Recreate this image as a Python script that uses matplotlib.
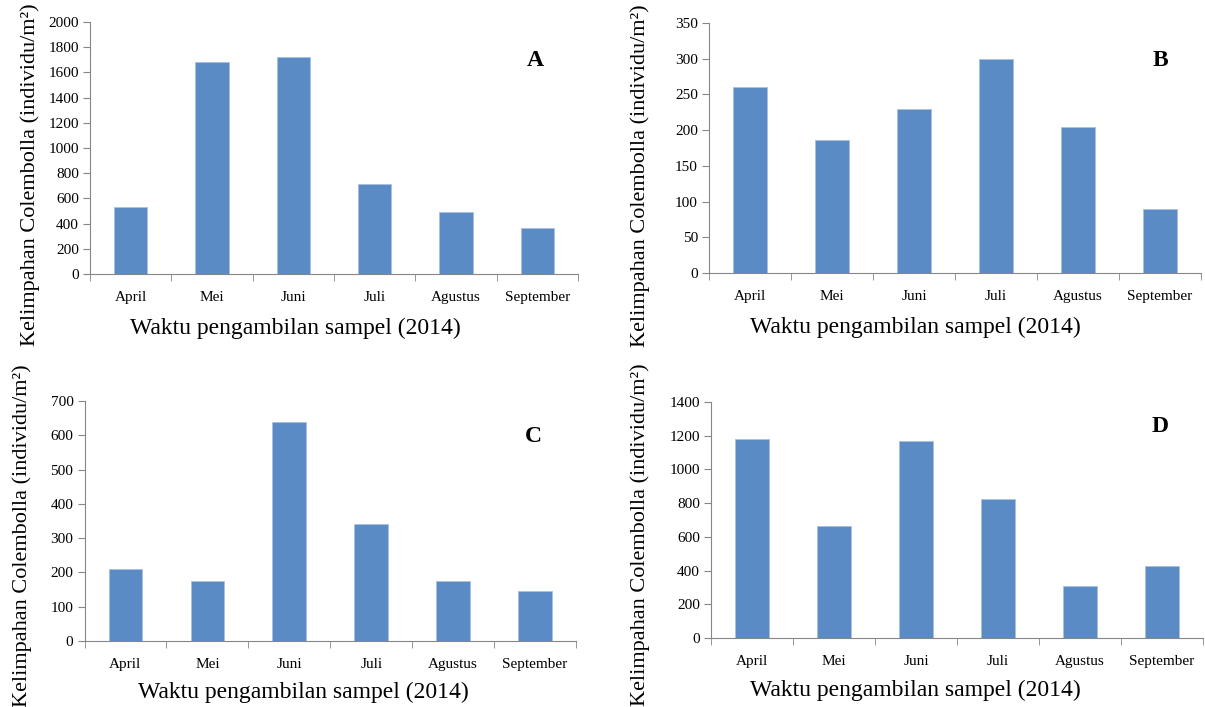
import matplotlib
matplotlib.use("Agg")
import matplotlib.pyplot as plt
import numpy as np

plt.rcParams['font.family'] = ['Liberation Serif', 'DejaVu Serif']

months = ['April', 'Mei', 'Juni', 'Juli', 'Agustus', 'September']

vals_a = [530, 1685, 1725, 715, 495, 365]
vals_b = [261, 186, 229, 299, 204, 89]
vals_c = [210, 174, 640, 340, 174, 146]
vals_d = [1180, 665, 1170, 825, 310, 430]

ymax = [2000, 350, 700, 1400]
ystep = [200, 50, 100, 200]
letters = ['A', 'B', 'C', 'D']

W, H = 1205, 707
BAR = '#5b8bc5'
GREY = '#868686'

# axes boxes in pixels: left, top, right, bottom
boxes = [(90, 22, 578, 274), (709, 23, 1201, 273),
         (84.5, 401, 576, 641), (711, 402, 1203, 638)]
ylab_pos = [(-0.102, 0.393), (-0.12, 0.39), (-0.107, 0.44), (-0.124, 0.436)]
letter_pos = [(535, 60), (1160, 60), (533, 437), (1160, 427)]
xlab_x = [0.42, 0.419, 0.445, 0.415]
xlab_y = [328, 327, 692, 690]

fig = plt.figure(figsize=(W / 100, H / 100), dpi=100)

data = [vals_a, vals_b, vals_c, vals_d]
for i, vals in enumerate(data):
    l, t, r, b = boxes[i]
    ax = fig.add_axes([l / W, 1 - b / H, (r - l) / W, (b - t) / H])
    x = np.arange(len(months))
    ax.bar(x, vals, width=0.41, color=BAR, edgecolor='#a9c1e0', linewidth=0.6)
    ax.set_xlim(-0.5, len(months) - 0.5)
    ax.set_ylim(0, ymax[i])
    ax.set_yticks(np.arange(0, ymax[i] + 1, ystep[i]))
    ax.set_xticks(x)
    ax.set_xticklabels(months, fontsize=11)
    ax.set_xticks(np.arange(-0.5, len(months)), minor=True)
    ax.tick_params(axis='x', which='major', length=0, pad=12)
    ax.tick_params(axis='x', which='minor', length=5, color=GREY, direction='out')
    ax.tick_params(axis='y', length=5, color=GREY, labelsize=11, pad=3)
    for s in ['top', 'right']:
        ax.spines[s].set_visible(False)
    for s in ['left', 'bottom']:
        ax.spines[s].set_color(GREY)
    ax.set_ylabel('Kelimpahan Colembolla (individu/m²)', fontsize=16)
    ax.yaxis.set_label_coords(*ylab_pos[i])
    ax.set_xlabel('Waktu pengambilan sampel (2014)', fontsize=17)
    ax.xaxis.set_label_coords(xlab_x[i], (b - xlab_y[i]) / (b - t))
    ax.xaxis.label.set_verticalalignment('center')
    lx, ly = letter_pos[i]
    fig.text(lx / W, 1 - ly / H, letters[i], fontsize=17, fontweight='bold',
             ha='center', va='center')

fig.savefig('out.png', dpi=100)
